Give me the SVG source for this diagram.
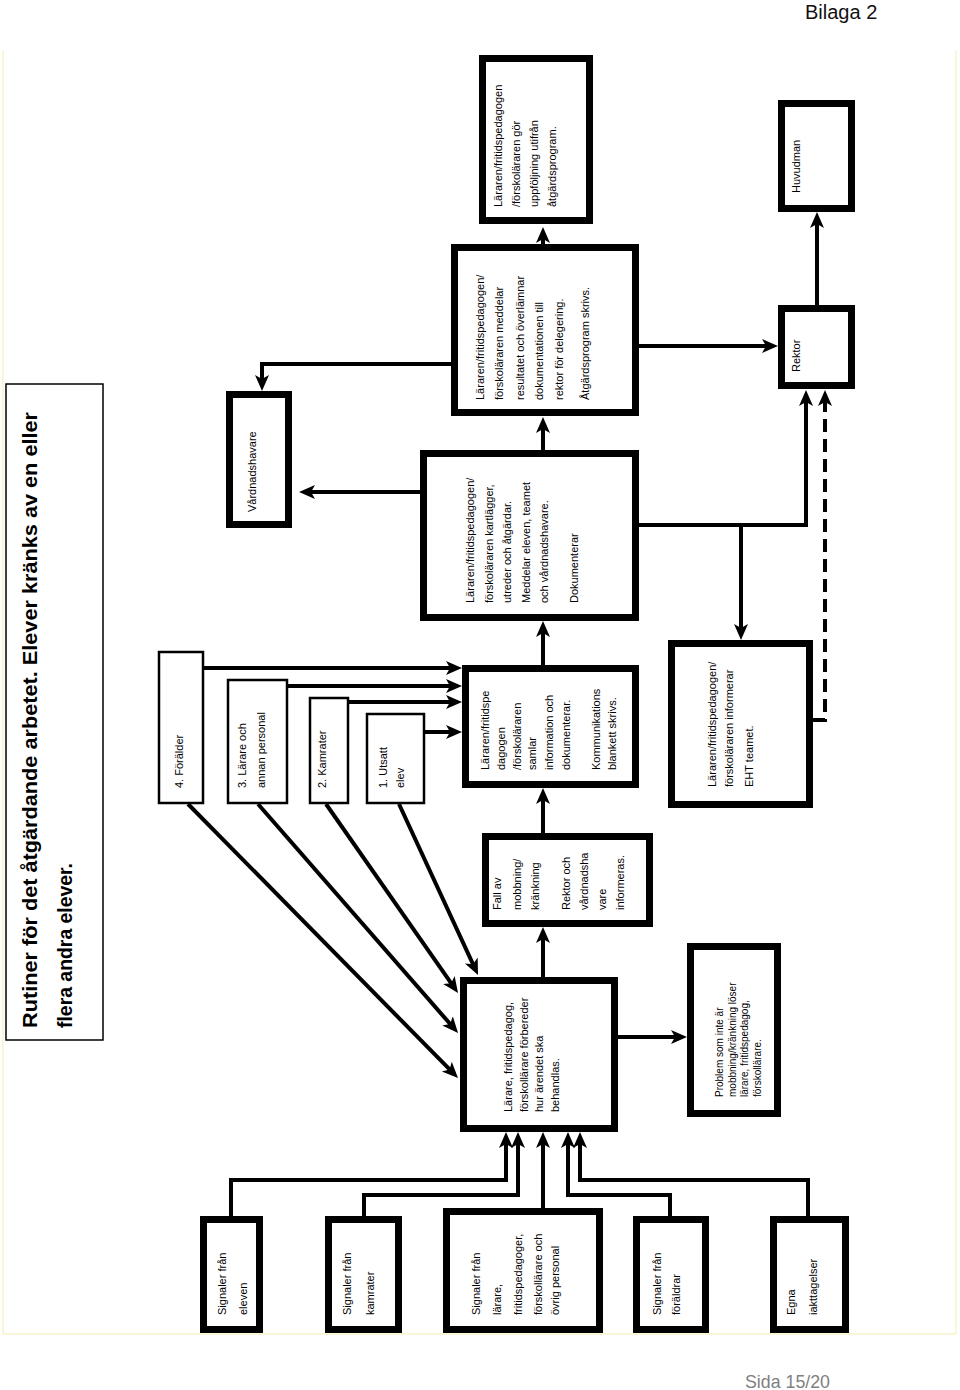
<svg xmlns="http://www.w3.org/2000/svg" width="960" height="1390" viewBox="0 0 960 1390">
<style>
.box{fill:#fff;stroke:#000;stroke-width:7}
.thin{fill:#fff;stroke:#000;stroke-width:2.5}
.c{fill:none;stroke:#000;stroke-width:4}
.d{fill:none;stroke:#000;stroke-width:4;stroke-dasharray:13,7}
.t{font-family:"Liberation Sans",Arial,sans-serif;font-size:11px;fill:#000}
.t10{font-family:"Liberation Sans",Arial,sans-serif;font-size:10px;fill:#000}
.title{font-family:"Liberation Sans",Arial,sans-serif;font-size:21px;font-weight:bold;fill:#000}
</style>
<defs>
<marker id="ah" markerUnits="userSpaceOnUse" markerWidth="16" markerHeight="16" viewBox="0 0 16 16" refX="10" refY="8" orient="auto">
<path d="M0,1 L16,8 L0,15 L4,8 Z" fill="#000"/>
</marker>
</defs>
<rect width="960" height="1390" fill="#fff"/>
<path d="M3,50 V1334 H956 V50" fill="none" stroke="#f3efb0" stroke-width="1"/>
<text x="805" y="19" font-family="Liberation Sans,Arial,sans-serif" font-size="20" fill="#111">Bilaga 2</text>
<text x="745" y="1388" font-family="Liberation Sans,Arial,sans-serif" font-size="19" fill="#808080" textLength="85" lengthAdjust="spacingAndGlyphs">Sida 15/20</text>

<g id="title">
<rect x="6" y="384" width="97" height="656" fill="#fff" stroke="#000" stroke-width="1.5"/>
<text class="title" transform="translate(37,1028) rotate(-90)"><tspan x="0" y="0" textLength="616" lengthAdjust="spacingAndGlyphs">Rutiner för det åtgärdande arbetet. Elever kränks av en eller</tspan><tspan x="0" y="35" textLength="165" lengthAdjust="spacingAndGlyphs">flera andra elever.</tspan></text>
</g>

<g id="connectors">
<path class="c" d="M543,244 V233" marker-end="url(#ah)"/>
<path class="c" d="M451,364 H262 V385" marker-end="url(#ah)"/>
<path class="c" d="M420,492 H305" marker-end="url(#ah)"/>
<path class="c" d="M543,450 V423" marker-end="url(#ah)"/>
<path class="c" d="M543,665 V627" marker-end="url(#ah)"/>
<path class="c" d="M543,833 V794" marker-end="url(#ah)"/>
<path class="c" d="M543,977 V933" marker-end="url(#ah)"/>
<path class="c" d="M639,346 H772" marker-end="url(#ah)"/>
<path class="c" d="M817,305 V218" marker-end="url(#ah)"/>
<path class="c" d="M639,525 H806 V396" marker-end="url(#ah)"/>
<path class="c" d="M741,525 V634" marker-end="url(#ah)"/>
<path class="d" d="M813,720 H825 V396" marker-end="url(#ah)"/>
<path class="c" d="M203,668 H456" marker-end="url(#ah)"/>
<path class="c" d="M288,686 H456" marker-end="url(#ah)"/>
<path class="c" d="M348,702 H456" marker-end="url(#ah)"/>
<path class="c" d="M424,732 H456" marker-end="url(#ah)"/>
<path class="c" d="M188,804 L453.8,1073.7" marker-end="url(#ah)"/>
<path class="c" d="M258,804 L454.1,1028.5" marker-end="url(#ah)"/>
<path class="c" d="M326,804 L454.6,988.1" marker-end="url(#ah)"/>
<path class="c" d="M399,804 L475.5,969.6" marker-end="url(#ah)"/>
<path class="c" d="M618,1037 H681" marker-end="url(#ah)"/>
<path class="c" d="M231,1216 V1180 H506 V1138" marker-end="url(#ah)"/>
<path class="c" d="M364,1216 V1195 H518 V1138" marker-end="url(#ah)"/>
<path class="c" d="M543,1208 V1138" marker-end="url(#ah)"/>
<path class="c" d="M670,1216 V1195 H568 V1138" marker-end="url(#ah)"/>
<path class="c" d="M808,1216 V1180 H580 V1138" marker-end="url(#ah)"/>
</g>

<g id="uppfoljning">
<rect class="box" x="482.5" y="58.5" width="107" height="162"/>
<text class="t" transform="translate(502,207) rotate(-90)"><tspan x="0" y="0">Läraren/fritidspedagogen</tspan><tspan x="0" y="18">/förskoläraren gör</tspan><tspan x="0" y="36">uppföljning utifrån</tspan><tspan x="0" y="54">åtgärdsprogram.</tspan></text>
</g>

<g id="meddelar">
<rect class="box" x="454.5" y="247.5" width="181" height="165"/>
<text class="t" transform="translate(484,400) rotate(-90)"><tspan x="0" y="0">Läraren/fritidspedagogen/</tspan><tspan x="0" y="19">förskoläraren meddelar</tspan><tspan x="0" y="40">resultatet och överlämnar</tspan><tspan x="0" y="59">dokumentationen till</tspan><tspan x="0" y="79">rektor för delegering.</tspan><tspan x="0" y="105">Åtgärdsprogram skrivs.</tspan></text>
</g>

<g id="vardnadshavare">
<rect class="box" x="229.5" y="394.5" width="59" height="130"/>
<text class="t" transform="translate(256,512) rotate(-90)">Vårdnadshavare</text>
</g>

<g id="kartlagger">
<rect class="box" x="423.5" y="453.5" width="212" height="164"/>
<text class="t" transform="translate(474,603) rotate(-90)"><tspan x="0" y="0">Läraren/fritidspedagogen/</tspan><tspan x="0" y="19">förskoläraren kartlägger,</tspan><tspan x="0" y="37">utreder och åtgärdar.</tspan><tspan x="0" y="56">Meddelar eleven, teamet</tspan><tspan x="0" y="74">och vårdnadshavare.</tspan><tspan x="0" y="104">Dokumenterar</tspan></text>
</g>

<g id="samlar">
<rect class="box" x="465.5" y="668.5" width="170" height="116"/>
<text class="t" transform="translate(489,770) rotate(-90)"><tspan x="0" y="0">Läraren/fritidspe</tspan><tspan x="0" y="16">dagogen</tspan><tspan x="0" y="32">/förskoläraren</tspan><tspan x="0" y="47">samlar</tspan><tspan x="0" y="64">information och</tspan><tspan x="0" y="81">dokumenterar.</tspan><tspan x="0" y="111">Kommunikations</tspan><tspan x="0" y="127">blankett skrivs.</tspan></text>
</g>

<g id="eht">
<rect class="box" x="671.5" y="643.5" width="138" height="161"/>
<text class="t" transform="translate(716,787) rotate(-90)"><tspan x="0" y="0">Läraren/fritidspedagogen/</tspan><tspan x="0" y="17">förskoläraren informerar</tspan><tspan x="0" y="37">EHT teamet.</tspan></text>
</g>

<g id="rektor">
<rect class="box" x="781.5" y="308.5" width="70" height="77"/>
<text class="t" transform="translate(800,372) rotate(-90)">Rektor</text>
</g>

<g id="huvudman">
<rect class="box" x="781.5" y="103.5" width="70" height="105"/>
<text class="t" transform="translate(800,193) rotate(-90)">Huvudman</text>
</g>

<g id="forälder">
<rect class="thin" x="159" y="652" width="44" height="151"/>
<text class="t" transform="translate(183,788) rotate(-90)">4. Förälder</text>
</g>
<g id="larare-personal">
<rect class="thin" x="228" y="680" width="59" height="123"/>
<text class="t" transform="translate(246,788) rotate(-90)"><tspan x="0" y="0">3. Lärare och</tspan><tspan x="0" y="19">annan personal</tspan></text>
</g>
<g id="kamrater">
<rect class="thin" x="310" y="698" width="38" height="105"/>
<text class="t" transform="translate(326,788) rotate(-90)">2. Kamrater</text>
</g>
<g id="utsatt">
<rect class="thin" x="367" y="714" width="57" height="89"/>
<text class="t" transform="translate(387,788) rotate(-90)"><tspan x="0" y="0">1. Utsatt</tspan><tspan x="0" y="17">elev</tspan></text>
</g>

<g id="fall">
<rect class="box" x="485.5" y="836.5" width="164" height="87"/>
<text class="t" transform="translate(501,910) rotate(-90)"><tspan x="0" y="0">Fall av</tspan><tspan x="0" y="20">mobbning/</tspan><tspan x="0" y="38">kränkning</tspan><tspan x="0" y="69">Rektor och</tspan><tspan x="0" y="87">vårdnadsha</tspan><tspan x="0" y="105">vare</tspan><tspan x="0" y="123">informeras.</tspan></text>
</g>

<g id="forbereder">
<rect class="box" x="463.5" y="980.5" width="151" height="148"/>
<text class="t" transform="translate(512,1112) rotate(-90)"><tspan x="0" y="0">Lärare, fritidspedagog,</tspan><tspan x="0" y="16">förskollärare förbereder</tspan><tspan x="0" y="31">hur ärendet ska</tspan><tspan x="0" y="47">behandlas.</tspan></text>
</g>

<g id="problem">
<rect class="box" x="690.5" y="946.5" width="87" height="167"/>
<text class="t10" transform="translate(723,1097) rotate(-90)"><tspan x="0" y="0">Problem som inte är</tspan><tspan x="0" y="13">mobbning/kränkning löser</tspan><tspan x="0" y="25">lärare, fritidspedagog,</tspan><tspan x="0" y="38">förskollärare.</tspan></text>
</g>

<g id="sig-eleven">
<rect class="box" x="203.5" y="1219.5" width="56" height="110"/>
<text class="t" transform="translate(226,1315) rotate(-90)"><tspan x="0" y="0">Signaler från</tspan><tspan x="0" y="21">eleven</tspan></text>
</g>
<g id="sig-kamrater">
<rect class="box" x="328.5" y="1219.5" width="70" height="110"/>
<text class="t" transform="translate(351,1315) rotate(-90)"><tspan x="0" y="0">Signaler från</tspan><tspan x="0" y="23">kamrater</tspan></text>
</g>
<g id="sig-larare">
<rect class="box" x="446.5" y="1211.5" width="153" height="118"/>
<text class="t" transform="translate(480,1315) rotate(-90)"><tspan x="0" y="0">Signaler från</tspan><tspan x="0" y="21">lärare,</tspan><tspan x="0" y="42">fritidspedagoger,</tspan><tspan x="0" y="62">förskollärare och</tspan><tspan x="0" y="79">övrig personal</tspan></text>
</g>
<g id="sig-foraldrar">
<rect class="box" x="636.5" y="1219.5" width="69" height="110"/>
<text class="t" transform="translate(661,1315) rotate(-90)"><tspan x="0" y="0">Signaler från</tspan><tspan x="0" y="19">föräldrar</tspan></text>
</g>
<g id="egna">
<rect class="box" x="773.5" y="1219.5" width="72" height="110"/>
<text class="t" transform="translate(795,1315) rotate(-90)"><tspan x="0" y="0">Egna</tspan><tspan x="0" y="22">iakttagelser</tspan></text>
</g>
</svg>
